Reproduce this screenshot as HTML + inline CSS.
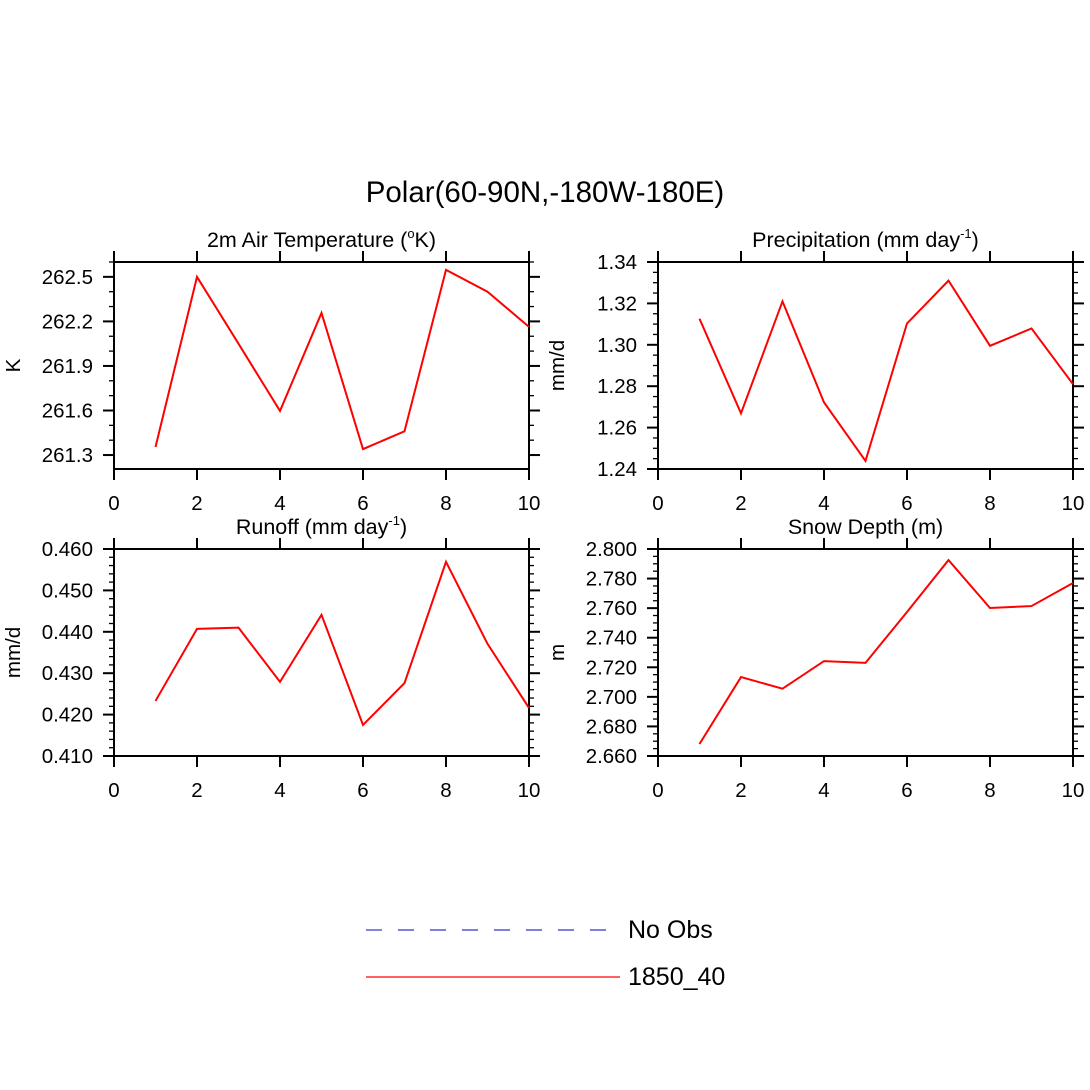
<!DOCTYPE html>
<html><head><meta charset="utf-8"><style>
html,body{margin:0;padding:0;background:#fff;}
svg{display:block;font-family:"Liberation Sans",sans-serif;}
</style></head><body>
<svg id="chart" width="1090" height="1090" viewBox="0 0 1090 1090">
<rect width="1090" height="1090" fill="#fff"/>
<text x="545" y="202" font-size="29.5" text-anchor="middle">Polar(60-90N,-180W-180E)</text>
<g>
<line x1="366" y1="930" x2="612" y2="930" stroke="#3333cc" stroke-width="1.2" stroke-dasharray="16,16"/>
<text x="628" y="938" font-size="25">No Obs</text>
<line x1="366" y1="977" x2="620" y2="977" stroke="#ff0000" stroke-width="1.2"/>
<text x="628" y="985" font-size="25">1850_40</text>
</g>
</svg>
<script>
const xs = [1,2,3,4,5,6,7,8,9,10];
const tempVals = [261.354,262.5,262.05,261.597,262.257,261.34,261.46,262.547,262.4,262.163];
const precVals = [1.3126,1.2669,1.321,1.2722,1.2439,1.3103,1.3310,1.2995,1.3079,1.281];
const runoffVals = [0.4233,0.4407,0.4410,0.4279,0.4441,0.4175,0.4276,0.4569,0.4371,0.4216];
const snowVals = [2.6681,2.7134,2.7055,2.7242,2.7230,2.7574,2.7925,2.7601,2.7614,2.7770];
const xTicks = [0,2,4,6,8,10];
const tempTicks = ["261.3","261.6","261.9","262.2","262.5"];
const precTicks = ["1.24","1.26","1.28","1.30","1.32","1.34"];
const runoffTicks = ["0.410","0.420","0.430","0.440","0.450","0.460"];
const snowTicks = ["2.660","2.680","2.700","2.720","2.740","2.760","2.780","2.800"];

const NS="http://www.w3.org/2000/svg";
const svg=document.getElementById('chart');
function mk(tag,attrs,parent){const e=document.createElementNS(NS,tag);for(const k in attrs)e.setAttribute(k,attrs[k]);parent.appendChild(e);return e;}

const panels=[
 {id:'temp',x0:114,y0:262,ymin:261.206,ymax:262.6,ticks:tempTicks,minor:0.1,vals:tempVals,title:'2m Air Temperature (',sup:'o',after:'K)',ylab:'K'},
 {id:'precip',x0:658,y0:262,ymin:1.24,ymax:1.34,ticks:precTicks,minor:0.005,vals:precVals,title:'Precipitation (mm day',sup:'-1',after:')',ylab:'mm/d'},
 {id:'runoff',x0:114,y0:549,ymin:0.41,ymax:0.46,ticks:runoffTicks,minor:0.002,vals:runoffVals,title:'Runoff (mm day',sup:'-1',after:')',ylab:'mm/d'},
 {id:'snow',x0:658,y0:549,ymin:2.66,ymax:2.80,ticks:snowTicks,minor:0.005,vals:snowVals,title:'Snow Depth (m)',sup:'',after:'',ylab:'m'}
];
const W=415,H=207;
panels.forEach(p=>{
 const g=mk('g',{},svg);
 
 
 const sx=v=>p.x0+v/10*W;
 const sy=v=>p.y0+H-(v-p.ymin)/(p.ymax-p.ymin)*H;
 const ax=mk('g',{stroke:'#000','stroke-width':2},g);
 
 
 mk('rect',{x:p.x0,y:p.y0,width:W,height:H,fill:'none'},ax);
 xTicks.forEach(t=>{
  const x=sx(t);
  mk('line',{x1:x,y1:p.y0+H,x2:x,y2:p.y0+H+11},ax);
  mk('line',{x1:x,y1:p.y0,x2:x,y2:p.y0-11},ax);
  const tx=mk('text',{x:x,y:p.y0+H+41,'font-size':20.5,'text-anchor':'middle',stroke:'none'},g);
  tx.textContent=t;
  
  
 });
 const nmin=Math.round((p.ymax-p.ymin)/p.minor)+2;
 const start=Math.ceil(p.ymin/p.minor-1e-6)*p.minor;
 for(let i=0;i<nmin;i++){
  const v=start+i*p.minor; if(v>p.ymax+1e-9)break;
  const y=sy(v);
  mk('line',{x1:p.x0,y1:y,x2:p.x0-5,y2:y,'stroke-width':1.3},ax);
  mk('line',{x1:p.x0+W,y1:y,x2:p.x0+W+5,y2:y,'stroke-width':1.3},ax);
 }
 p.ticks.forEach(t=>{
  const y=sy(parseFloat(t));
  mk('line',{x1:p.x0,y1:y,x2:p.x0-11,y2:y},ax);
  mk('line',{x1:p.x0+W,y1:y,x2:p.x0+W+11,y2:y},ax);
  const tx=mk('text',{x:p.x0-21,y:y+7,'font-size':20.5,'text-anchor':'end',stroke:'none'},g);
  tx.textContent=t;
  
  
 });
 const ttl=mk('text',{x:p.x0+W/2,y:p.y0-15,'font-size':21.5,'text-anchor':'middle'},g);
 
 
 ttl.appendChild(document.createTextNode(p.title));
 if(p.sup){const s=mk('tspan',{'font-size':13,dy:-9},ttl);s.textContent=p.sup;const a=mk('tspan',{dy:9},ttl);a.textContent=p.after;}
 const yl=mk('text',{x:0,y:0,'font-size':20.5,'text-anchor':'middle',transform:`translate(${p.x0-94},${p.y0+H/2}) rotate(-90)`},g);
 yl.textContent=p.ylab;
 
 
 const pts=xs.map((x,i)=>sx(x)+','+sy(p.vals[i])).join(' ');
 const ln=mk('polyline',{points:pts,fill:'none',stroke:'#ff0000','stroke-width':2},g);
 
 
});
</script>
</body></html>
